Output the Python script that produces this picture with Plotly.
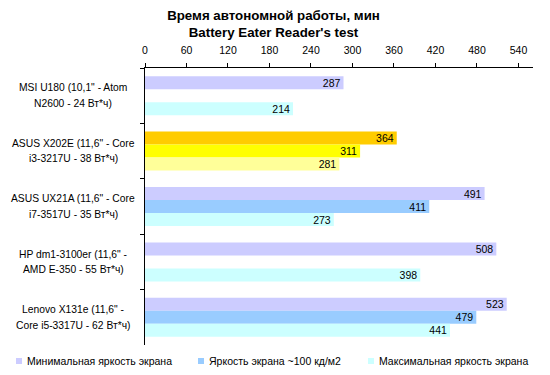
import plotly.graph_objects as go

categories = [
    "MSI U180 (10,1\" - Atom<br>N2600 - 24 Вт*ч)",
    "ASUS X202E (11,6\" - Core<br>i3-3217U - 38 Вт*ч)",
    "ASUS UX21A (11,6\" - Core<br>i7-3517U - 35 Вт*ч)",
    "HP dm1-3100er (11,6\" -<br>AMD E-350 - 55 Вт*ч)",
    "Lenovo X131e (11,6\" -<br>Core i5-3317U - 62 Вт*ч)",
]
series_names = ["Минимальная яркость экрана", "Яркость экрана ~100 кд/м2", "Максимальная яркость экрана"]
min_bright = [287, 364, 491, 508, 523]
mid_bright = [None, 311, 411, None, 479]
max_bright = [214, 281, 273, 398, 441]
x_ticks = [0, 60, 120, 180, 240, 300, 360, 420, 480, 540]

base_colors = ["#CCCCFF", "#99CCFF", "#CCFFFF"]
highlight_colors = ["#FFCC00", "#FFFF00", "#FFFF99"]
highlight_idx = 1

FONT = "Liberation Sans, Arial"
OFF = 8  # default page body margin
W, H = 550 - OFF, 375 - OFF
# target page-pixel positions of the plot area
P_LEFT, P_RIGHT, P_TOP, P_BOTTOM = 145, 533, 68, 345
L, T = P_LEFT - OFF, P_TOP - OFF
R, B = W - (P_RIGHT - OFF), H - (P_BOTTOM - OFF)
PW, PH = W - L - R, H - T - B


def px_x(px):  # page pixel -> paper fraction
    return (px - OFF - L) / PW


def px_y(py):
    return (H - B - (py - OFF)) / PH


fig = go.Figure()
for i, (name, vals) in enumerate(zip(series_names, [min_bright, mid_bright, max_bright])):
    colors = [highlight_colors[i] if k == highlight_idx else base_colors[i] for k in range(len(categories))]
    fig.add_trace(go.Bar(
        y=categories, x=vals, name=name, orientation="h",
        marker=dict(color=colors, line=dict(width=0)),
        text=[("" if v is None else str(v)) for v in vals],
        textposition="inside", insidetextanchor="end",
        textfont=dict(family=FONT, size=10.5, color="#000000"),
        constraintext="none",
        hoverinfo="skip", showlegend=False,
    ))

# category labels: two centred lines each, like the original
LABEL_CENTER_PX = 73
LINE_GAP = 15.6
for cat in categories:
    lines = cat.split("<br>")
    n = len(lines)
    for j, line in enumerate(lines):
        fig.add_annotation(
            x=px_x(LABEL_CENTER_PX), xref="paper", xanchor="center",
            y=cat, yref="y", yanchor="middle",
            yshift=((n - 1) / 2 - j) * LINE_GAP,
            text=line, showarrow=False,
            font=dict(family=FONT, size=10.3, color="#000000"),
        )

# legend drawn as small squares + labels (as in the original)
legend_square_px = [16, 198, 368]
for i, name in enumerate(series_names):
    sx = legend_square_px[i]
    fig.add_shape(type="rect", xref="paper", yref="paper",
                  x0=px_x(sx), x1=px_x(sx + 6), y0=px_y(364), y1=px_y(358),
                  fillcolor=base_colors[i], line=dict(width=0))
    fig.add_annotation(x=px_x(sx + 9), xref="paper", xanchor="left",
                       y=px_y(361), yref="paper", yanchor="middle",
                       text=name, showarrow=False,
                       font=dict(family=FONT, size=10.5, color="#000000"))

fig.update_layout(
    width=W, height=H,
    margin=dict(l=L, r=R, t=T, b=B, autoexpand=False),
    paper_bgcolor="white", plot_bgcolor="white",
    barmode="group", bargap=0.296, bargroupgap=0,
    font=dict(family=FONT, size=11, color="#000000"),
    title=dict(text="<b>Время автономной работы, мин<br>Battery Eater Reader's test</b>",
               xref="container", x=(273.5 - OFF) / W, xanchor="center",
               yref="container", y=1 - 12 / H, yanchor="top",
               font=dict(size=13.3, color="#000000")),
    uniformtext=dict(minsize=10.5, mode="show"),
    showlegend=False,
    xaxis=dict(side="top", range=[0, 561], tickvals=x_ticks, showgrid=False,
               showline=True, linecolor="#000000", linewidth=1,
               ticks="outside", ticklen=4, tickcolor="#000000", zeroline=False,
               tickfont=dict(size=10.5), ticklabelstandoff=5),
    yaxis=dict(autorange="reversed", showline=True, linecolor="#000000", linewidth=1,
               ticks="outside", ticklen=4, tickcolor="#000000", tickson="boundaries",
               showgrid=False, showticklabels=False),
)
fig.write_html("out.html")
